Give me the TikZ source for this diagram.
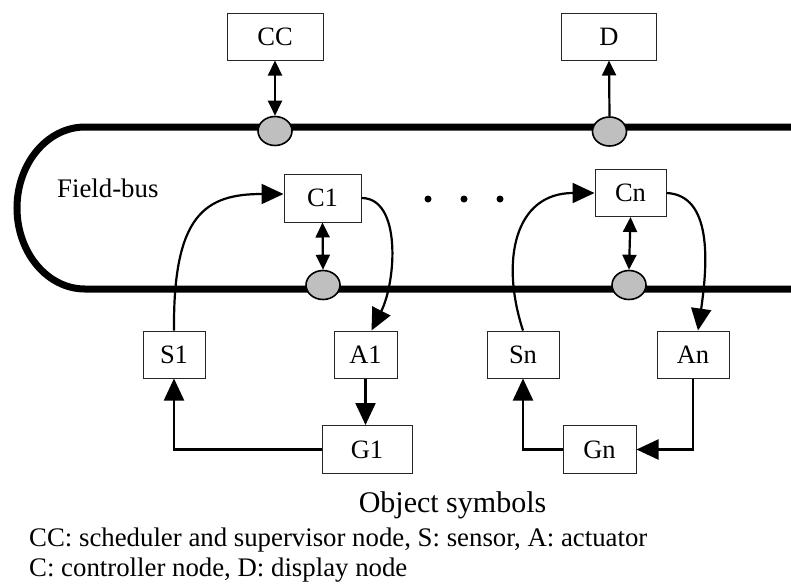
\documentclass[tikz,border=0pt]{standalone}
\usepackage{fontspec}
\setmainfont{Liberation Serif}
\usetikzlibrary{arrows.meta,shapes.geometric}
\tikzset{
  box/.style={draw=black!85, line width=1pt, fill=white, inner sep=0pt,
    font=\fontsize{26.5}{30}\selectfont},
  tap/.style={ellipse, draw=black, line width=1.6pt, fill=gray!50,
    minimum width=34pt, minimum height=29pt, inner sep=0pt},
  bus/.style={line width=7pt},
  big/.style={line width=2.2pt, -{Triangle[length=22pt,width=20pt]}},
  small/.style={line width=2.2pt, {Triangle[length=15pt,width=14pt]}-{Triangle[length=15pt,width=14pt]}},
  smallone/.style={line width=2.2pt, -{Triangle[length=15pt,width=14pt]}},
  txt/.style={inner sep=0pt, font=\fontsize{26.8}{30}\selectfont},
}
\begin{document}
\begin{tikzpicture}[x=1pt,y=-1pt]
\useasboundingbox (0,0) rectangle (791,584);
% field bus
\draw[bus] (800,127) -- (85,127) arc[start angle=270, end angle=90, x radius=68, y radius=81] -- (800,289);
% boxes
\node[box, minimum width=96pt, minimum height=47pt] (CC) at (275,36.5) {CC};
\node[box, minimum width=95pt, minimum height=47pt] (D) at (609,36.5) {D};
\node[box, minimum width=77pt, minimum height=48pt] (C1) at (322.5,198) {C1};
\node[box, minimum width=71pt, minimum height=47pt] (Cn) at (630.5,193) {Cn};
\node[box, minimum width=62pt, minimum height=47pt] (S1) at (174,354.5) {S1};
\node[box, minimum width=63pt, minimum height=47pt] (A1) at (365.5,354.5) {A1};
\node[box, minimum width=72pt, minimum height=47pt] (Sn) at (523,354.5) {Sn};
\node[box, minimum width=72pt, minimum height=47pt] (An) at (693,354.5) {An};
\node[box, minimum width=90pt, minimum height=48pt] (G1) at (367,449.5) {G1};
\node[box, minimum width=73pt, minimum height=48pt] (Gn) at (599.5,449.5) {Gn};
% taps
\node[tap] (CCtap) at (275,131) {};
\node[tap] (Dtap) at (609.5,131.5) {};
\node[tap] (C1tap) at (323,285) {};
\node[tap] (Cntap) at (629,285) {};
% dots
\fill (428,199) circle (3.5pt) (464,199) circle (3.5pt) (500,199) circle (3.5pt);
% labels
\node[txt, anchor=base west] (fb) at (57,197) {Field-bus};
\node[inner sep=0pt, anchor=base, font=\fontsize{30}{34}\selectfont] (os) at (452.5,512) {Object symbols};
\node[txt, anchor=base west] (l1) at (29,546) {CC: scheduler and supervisor node, S: sensor, A: actuator};
\node[txt, anchor=base west] (l2) at (29,576) {C: controller node, D: display node};
% bus connections
\draw[small] (CC.south) -- (CCtap.north);
\draw[smallone] (Dtap.north) -- (D.south);
\draw[small] (C1.south) -- (C1tap.north);
\draw[small] (Cn.south) -- (Cntap.north);
% control loops
\draw[big] (S1.north) .. controls (173,215) and (205,194) .. ([yshift=4pt]C1.west);
\draw[big] (C1.east) .. controls (402,198) and (396,282) .. ([xshift=6pt]A1.north);
\draw[big] (A1.south) -- (A1.south |- G1.north);
\draw[big] (G1.west) -| (S1.south);
\draw[big] (Sn.north) .. controls (500,260) and (515,193) .. (Cn.west);
\draw[big] (Cn.east) .. controls (712,195) and (708,262) .. ([xshift=5pt]An.north);
\draw[big] (An.south) |- (Gn.east);
\draw[big] (Gn.west) -| (Sn.south);
\end{tikzpicture}
\end{document}
